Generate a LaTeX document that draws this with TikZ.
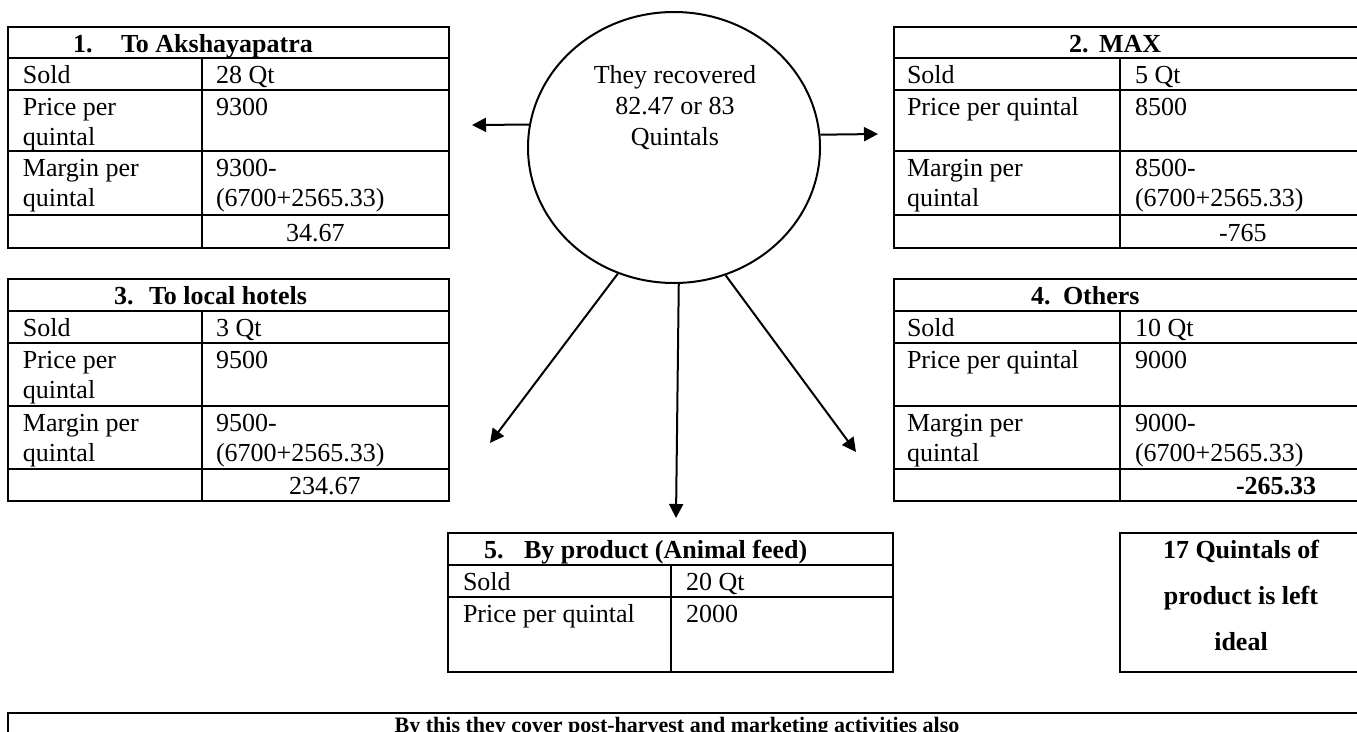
\documentclass[tikz,border=0pt]{standalone}
\usepackage{fontspec}
\setmainfont{Liberation Serif}
\usetikzlibrary{arrows.meta,shapes.geometric}
\newcommand\ml[1]{\begin{tabular}[t]{@{}l@{}}#1\end{tabular}}
\newcommand\mc[1]{\begin{tabular}[t]{@{}c@{}}#1\end{tabular}}
% L D R y0 y1 y2 y3 y4 y5
\newcommand\tblgrid[9]{%
  \draw (#1,#4) rectangle (#3,#9);
  \draw (#1,#5) -- (#3,#5);
  \draw (#1,#6) -- (#3,#6);
  \draw (#1,#7) -- (#3,#7);
  \draw (#1,#8) -- (#3,#8);
  \draw (#2,#5) -- (#2,#9);}
\begin{document}
\begin{tikzpicture}[x=1pt,y=-1pt,line width=2pt,
  every node/.style={font=\fontsize{26}{30}\selectfont, inner sep=0pt},
  cell/.style={anchor=base west},
  hd/.style={anchor=base west, font=\fontsize{26}{30}\selectfont\bfseries},
  arr/.style={line width=2pt, -{Triangle[length=14pt,width=14pt]}}]
\useasboundingbox (0,0) rectangle (1357,731);
\fill[white] (0,0) rectangle (1357,731);

% ---- table grids
\tblgrid{8}{202}{449}{27}{58}{90}{151}{215}{248}
\tblgrid{894}{1120}{1362}{27}{58}{90}{151}{215}{248}
\tblgrid{8}{202}{449}{279}{311}{343}{406}{469}{501}
\tblgrid{894}{1120}{1362}{279}{311}{343}{406}{469}{501}
\draw (448,533) rectangle (893,672);
\draw (448,565) -- (893,565);
\draw (448,597) -- (893,597);
\draw (671,565) -- (671,672);
\draw (1120,533) rectangle (1362,672);
\draw (8,713) rectangle (1362,790);

% ---- centre ellipse
\node[draw, ellipse, minimum width=292pt, minimum height=271pt] (circ) at (674,147.5) {};
\node[anchor=base, font=\fontsize{26}{31}\selectfont] (ctext) at (675,83) {\mc{They recovered\\82.47 or 83\\Quintals}};

% ---- arrows
\coordinate (aL) at (472,125);
\coordinate (aR) at (878,134);
\coordinate (aBL) at (490,443);
\coordinate (aB) at (676,518);
\coordinate (aBR) at (856,452);
\draw[arr] (circ.171) -- (aL);
\draw[arr] (circ.5) -- (aR);
\draw[arr] (circ.246.7) -- (aBL);
\draw[arr] (circ.272.5) -- (aB);
\draw[arr] (circ.292) -- (aBR);

% ---- table 1
\node[hd] (h1n) at (72,52) {1.};
\node[hd] (h1t) at (120,52) {To Akshayapatra};
\node[cell] (c1a) at (22,83) {Sold};
\node[cell] (c1b) at (215,83) {28 Qt};
\node[cell] (c1c) at (22,115) {\ml{Price per\\quintal}};
\node[cell] (c1d) at (215,115) {9300};
\node[cell] (c1e) at (22,176) {\ml{Margin per\\quintal}};
\node[cell] (c1f) at (215,176) {\ml{9300-\\(6700+2565.33)}};
\node[cell] (c1g) at (285,241) {34.67};

% ---- table 2
\node[hd] (h2n) at (1068,52) {2.};
\node[hd] (h2t) at (1098,52) {MAX};
\node[cell] (c2a) at (906,83) {Sold};
\node[cell] (c2b) at (1134,83) {5 Qt};
\node[cell] (c2c) at (906,115) {Price per quintal};
\node[cell] (c2d) at (1134,115) {8500};
\node[cell] (c2e) at (906,176) {\ml{Margin per\\quintal}};
\node[cell] (c2f) at (1134,176) {\ml{8500-\\(6700+2565.33)}};
\node[cell] (c2g) at (1218,241) {-765};

% ---- table 3
\node[hd] (h3n) at (113,304) {3.};
\node[hd] (h3t) at (148,304) {To local hotels};
\node[cell] (c3a) at (22,336) {Sold};
\node[cell] (c3b) at (215,336) {3 Qt};
\node[cell] (c3c) at (22,368) {\ml{Price per\\quintal}};
\node[cell] (c3d) at (215,368) {9500};
\node[cell] (c3e) at (22,431) {\ml{Margin per\\quintal}};
\node[cell] (c3f) at (215,431) {\ml{9500-\\(6700+2565.33)}};
\node[cell] (c3g) at (288,494) {234.67};

% ---- table 4
\node[hd] (h4n) at (1030,304) {4.};
\node[hd] (h4t) at (1062,304) {Others};
\node[cell] (c4a) at (906,336) {Sold};
\node[cell] (c4b) at (1134,336) {10 Qt};
\node[cell] (c4c) at (906,368) {Price per quintal};
\node[cell] (c4d) at (1134,368) {9000};
\node[cell] (c4e) at (906,431) {\ml{Margin per\\quintal}};
\node[cell] (c4f) at (1134,431) {\ml{9000-\\(6700+2565.33)}};
\node[hd] (c4g) at (1235,494) {-265.33};

% ---- table 5
\node[hd] (h5n) at (483,558) {5.};
\node[hd] (h5t) at (523,558) {By product (Animal feed)};
\node[cell] (c5a) at (462,590) {Sold};
\node[cell] (c5b) at (685,590) {20 Qt};
\node[cell] (c5c) at (462,622) {Price per quintal};
\node[cell] (c5d) at (685,622) {2000};

% ---- left-over box
\node[anchor=base, font=\fontsize{26}{46}\selectfont\bfseries] (left) at (1241,558) {\mc{17 Quintals of\\product is left\\ideal}};

% ---- bottom note
\node[anchor=base, font=\fontsize{22}{26}\selectfont\bfseries] (note) at (677,732) {By this they cover post-harvest and marketing activities also};
\end{tikzpicture}
\end{document}
